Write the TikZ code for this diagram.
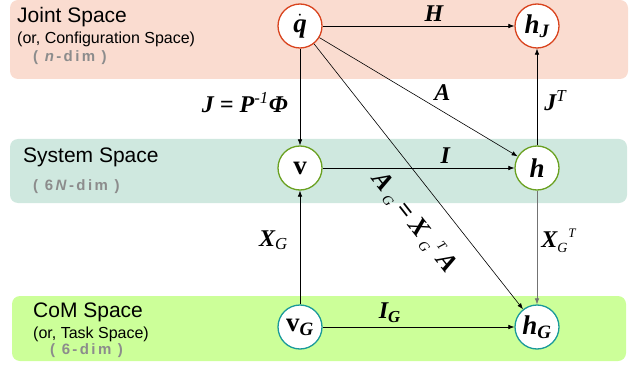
\documentclass[tikz,border=0pt]{standalone}
\usepackage{fontspec}
\setmainfont{Liberation Sans}
\newfontfamily\lblserif{Liberation Serif}
\usepackage{xcolor}
\definecolor{jointbg}{HTML}{FADCD0}
\definecolor{sysbg}{HTML}{CFE8DF}
\definecolor{combg}{HTML}{CCFF99}
\definecolor{jointc}{HTML}{D9441E}
\definecolor{sysc}{HTML}{6AA121}
\definecolor{comc}{HTML}{1A9A9A}
\definecolor{dimgray}{HTML}{8C8C8C}
\usepackage{tikz}
\usetikzlibrary{arrows.meta,positioning}
\newcommand{\lsub}[1]{\textsubscript{\mdseries #1}}
\newcommand{\lsup}[1]{\textsuperscript{\mdseries #1}}
\newcommand{\lboth}[2]{\raisebox{-5pt}{\fontsize{14}{14}\selectfont\mdseries #1}\kern1pt\raisebox{10pt}{\fontsize{13}{13}\selectfont\mdseries #2}}
\newcommand{\dimtxt}[1]{{\fontsize{15}{15}\selectfont\bfseries\color{dimgray}\addfontfeature{LetterSpace=16}#1}}

\begin{document}
\begin{tikzpicture}[x=1pt,y=-1pt,>={Latex[length=6pt,width=4.5pt]},node distance=140pt,on grid]
\tikzset{
 space/.style={circle,fill=white,line width=1.3pt,minimum size=44pt,inner sep=0pt,
  font=\fontsize{27}{27}\selectfont\lblserif\bfseries\itshape},
 lbl/.style={inner sep=0pt,font=\fontsize{24}{24}\selectfont\lblserif\bfseries\itshape},
 title/.style={anchor=base west,inner sep=0pt,font=\fontsize{21}{21}\selectfont},
 note/.style={anchor=base west,inner sep=0pt,font=\fontsize{16}{16}\selectfont},
 arrow/.style={->,line width=0.6pt}
}
\useasboundingbox (0,0) rectangle (639,366);
% bands
\fill[jointbg,rounded corners=8pt] (10,0) rectangle (628,79);
\fill[sysbg,rounded corners=8pt] (10,139) rectangle (627,203);
\fill[combg,rounded corners=8pt] (12,296) rectangle (626,361);
\node[title] (t1) at (17,23) {Joint Space};
\node[note] (n1) at (17,44) {(or, Configuration Space)};
\node[anchor=base west,inner sep=0pt] (d1) at (33,62) {\dimtxt{( \textit{n}-dim )}};
\node[title] (t2) at (23,163) {System Space};
\node[anchor=base west,inner sep=0pt] (d2) at (33,190) {\dimtxt{( 6\,\textit{N}-dim )}};
\node[title] (t3) at (33,317) {CoM Space};
\node[note] (n3) at (33,338) {(or, Task Space)};
\node[anchor=base west,inner sep=0pt] (d3) at (50,354) {\dimtxt{( 6-dim )}};
% spaces
\node[space,draw=jointc] (qd) at (300,26) {$\dot{\mbox{q}}$};
\node[space,draw=jointc,right=237pt of qd] (hj) {h\lsub{\bfseries J}};
\node[space,draw=sysc,below=142pt of qd] (v) {\upshape v};
\node[space,draw=sysc,right=237pt of v] (h) {h};
\node[space,draw=comc,below=159pt of v] (vg) {{\upshape v}\lsub{\bfseries G}};
\node[space,draw=comc,right=237pt of vg] (hg) {h\lsub{\bfseries G}};
% maps
\draw[arrow] (qd)--(hj) node[lbl,pos=0.58,above=4pt] {H};
\draw[arrow] (qd)--(v) node[lbl,pos=0.56,left=12pt] {J = P\lsup{-1}Φ};
\draw[arrow] (qd)--(h) node[lbl,pos=0.62,above=10pt] {A};
\draw[arrow] (qd)--(hg) node[lbl,pos=0.60,sloped,below=20pt,font=\fontsize{26}{26}\selectfont\lblserif\bfseries\itshape] {A\,\lboth{G}{}\,= X\,\lboth{G}{T}\,A};
\draw[arrow] (v)--(h) node[lbl,pos=0.64,above=4pt] {I};
\draw[arrow] (h)--(hj) node[lbl,pos=0.46,right=7pt] {J\lsup{T}};
\draw[arrow] (vg)--(v) node[lbl,pos=0.565,left=12pt] {X\lsub{G}};
\draw[arrow,draw=black!55] (h)--(hg) node[lbl,text=black,pos=0.44,right=4pt] {X\lboth{G}{T}};
\draw[arrow] (vg)--(hg) node[lbl,pos=0.35,above=4pt] {I\lsub{\bfseries G}};
\end{tikzpicture}
\end{document}
